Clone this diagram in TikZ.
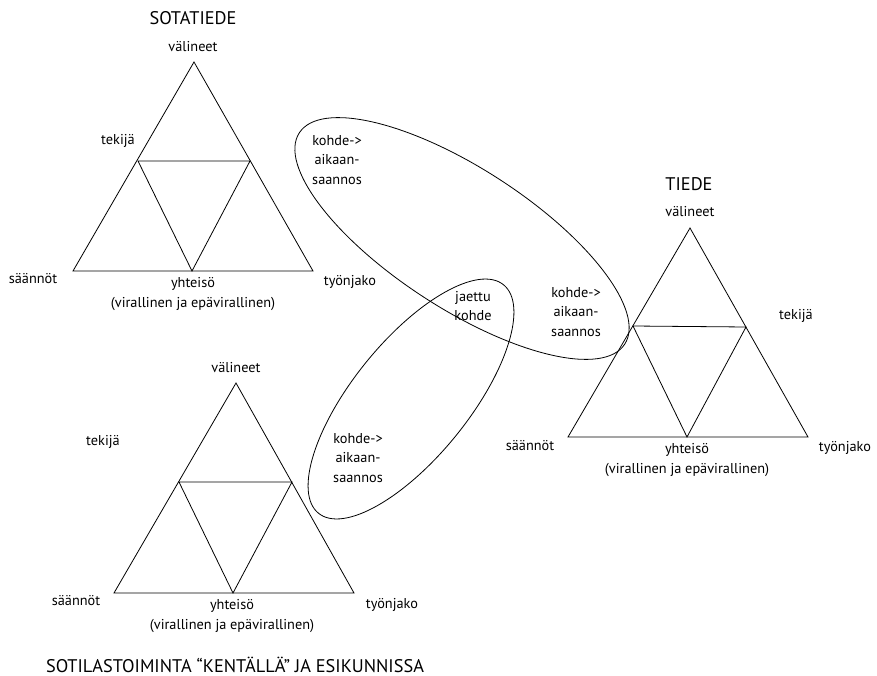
\documentclass[tikz,border=0pt]{standalone}
\usepackage{fontspec}
\setmainfont{PT Sans}
\usetikzlibrary{shapes.geometric}
\tikzset{
  lbl/.style={inner sep=0pt, font=\fontsize{14.3}{19.5}\selectfont, align=center},
  ttl/.style={inner sep=0pt, font=\fontsize{18.3}{20}\selectfont},
  tri/.style={line width=0.8pt, line join=miter},
  oval/.style={draw, ellipse, line width=0.8pt, inner sep=0pt}
}
\begin{document}
\begin{tikzpicture}[x=1pt,y=-1pt]
\useasboundingbox (0,0) rectangle (877,676);
% ---------- Triangle 1: SOTATIEDE
\coordinate (a1) at (194,62);
\coordinate (l1) at (73,271);
\coordinate (r1) at (313,271);
\coordinate (ml1) at (138,161);
\coordinate (mr1) at (250,161);
\coordinate (mb1) at (192,271);
\draw[tri] (a1) -- (l1) -- (r1) -- cycle;
\draw[tri] (ml1) -- (mr1) -- (mb1) -- cycle;
\node[ttl] (t1) at (193,18) {SOTATIEDE};
\node[lbl] (v1) at (193,47) {välineet};
\node[lbl] (k1) at (118,141) {tekijä};
\node[lbl] (s1) at (33,279) {säännöt};
\node[lbl] (y1) at (193,294) {yhteisö\\(virallinen ja epävirallinen)};
\node[lbl] (w1) at (350,282) {työnjako};
% ---------- Triangle 2: TIEDE
\coordinate (a2) at (690,228);
\coordinate (l2) at (568,437);
\coordinate (r2) at (808,437);
\coordinate (ml2) at (633,326);
\coordinate (mr2) at (746,327);
\coordinate (mb2) at (687,437);
\draw[tri] (a2) -- (l2) -- (r2) -- cycle;
\draw[tri] (ml2) -- (mr2) -- (mb2) -- cycle;
\node[ttl] (t2) at (689,184) {TIEDE};
\node[lbl] (v2) at (690,212) {välineet};
\node[lbl] (k2) at (796,316) {tekijä};
\node[lbl] (s2) at (530,446) {säännöt};
\node[lbl] (y2) at (687,460) {yhteisö\\(virallinen ja epävirallinen)};
\node[lbl] (w2) at (845,448) {työnjako};
% ---------- Triangle 3: SOTILASTOIMINTA
\coordinate (a3) at (236,383);
\coordinate (l3) at (114,593);
\coordinate (r3) at (354,593);
\coordinate (ml3) at (179,482);
\coordinate (mr3) at (292,482);
\coordinate (mb3) at (233,593);
\draw[tri] (a3) -- (l3) -- (r3) -- cycle;
\draw[tri] (ml3) -- (mr3) -- (mb3) -- cycle;
\node[lbl] (v3) at (236,368) {välineet};
\node[lbl] (k3) at (103,442) {tekijä};
\node[lbl] (s3) at (76,601) {säännöt};
\node[lbl] (y3) at (232,616) {yhteisö\\(virallinen ja epävirallinen)};
\node[lbl] (w3) at (392,605) {työnjako};
\node[ttl] (t3) at (235,665) {SOTILASTOIMINTA “KENTÄLLÄ” JA ESIKUNNISSA};
% ---------- Ellipses
\node[oval, minimum width=388pt, minimum height=140pt, rotate=-33] (E1) at (462,238.5) {};
\node[oval, minimum width=294pt, minimum height=116pt, rotate=51] (E2) at (411,399) {};
\node[lbl] (o1) at (337,160) {kohde->\\aikaan-\\saannos};
\node[lbl] (o2) at (576,312) {kohde->\\aikaan-\\saannos};
\node[lbl] (o3) at (473,306) {jaettu\\kohde};
\node[lbl] (o4) at (358,458) {kohde->\\aikaan-\\saannos};
\end{tikzpicture}
\end{document}
